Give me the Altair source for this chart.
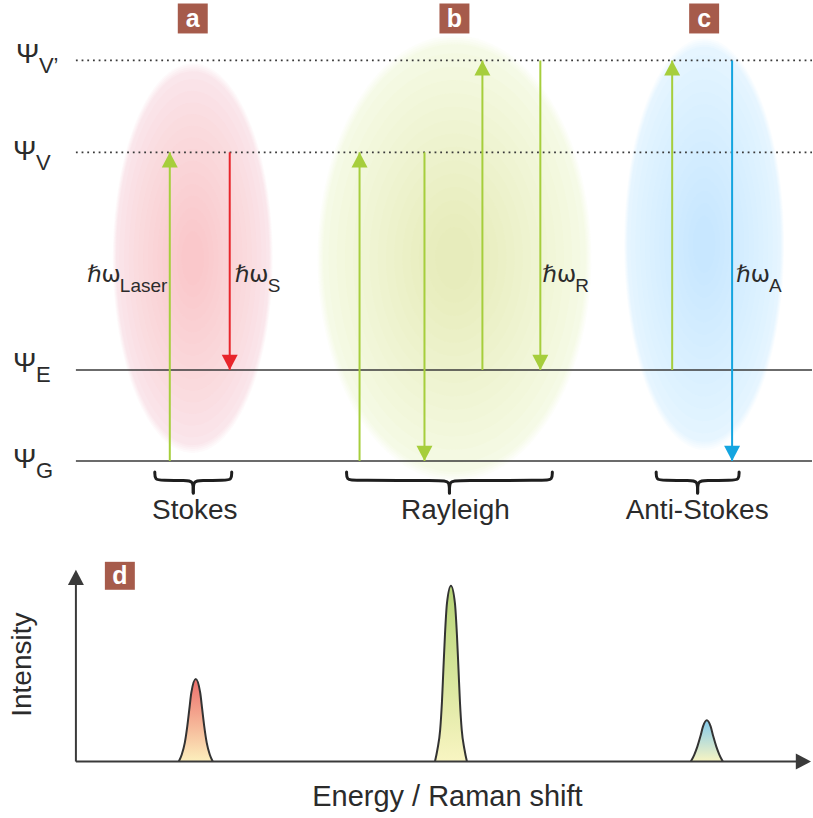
import altair as alt
import pandas as pd

# ---------------- energy-level diagram data ----------------
LEVEL_NAMES = ["G", "E", "V", "V’"]
LEVEL_ENERGY = [0.00, 0.91, 3.09, 4.01]          # diagram energy units
LEVEL_DOTTED = [False, False, True, True]
LEVEL_LABEL_X = [13, 13, 13, 16]

ARROW_X = [170, 230, 360, 425, 483, 541, 673, 733]
ARROW_FROM = ["G", "V", "G", "V", "E", "V’", "E", "V’"]
ARROW_TO = ["V", "E", "V", "G", "V’", "E", "V’", "G"]
ARROW_COLOR = ["#a6ce3c", "#e8252b", "#a6ce3c", "#a6ce3c",
               "#a6ce3c", "#a6ce3c", "#a6ce3c", "#14a5e0"]

PHOTON_MAIN = ["ℏω", "ℏω", "ℏω", "ℏω"]
PHOTON_SUB = ["Laser", "S", "R", "A"]
PHOTON_X = [87, 235, 543, 737]

PROCESS_NAMES = ["Stokes", "Rayleigh", "Anti-Stokes"]
PROCESS_TEXT_X = [195, 456, 698]
BRACE_LEFT = [155, 347, 657]
BRACE_RIGHT = [232, 553, 740]
PANEL_LETTERS = ["a", "b", "c"]
PANEL_X = [193, 455, 705]

GLOW_X = [193, 455, 705]
GLOW_PY = [258, 258, 244]
GLOW_RX = [80, 137, 80]
GLOW_RY = [195, 223, 206]
GLOW_COLOR = ["#f0969f", "#d0e08a", "#96d0f5"]

# ---------------- spectrum data (relative intensity, Rayleigh = 100) ----------------
STOKES_X = [179, 182, 185, 187.5, 189.5, 191.5, 196, 200.5, 202.5, 204.5, 207, 210, 213]
STOKES_I = [0, 4, 10.6, 20, 29.5, 39, 47, 39, 29.5, 20, 10.6, 4, 0]
RAYLEIGH_X = [435.5, 438, 440.7, 442.5, 443.9, 445.5, 447.5, 451.5,
              455.5, 457.5, 459.1, 460.5, 462.3, 465, 467.5]
RAYLEIGH_I = [0, 7, 18, 34, 52, 72, 90, 100, 90, 72, 52, 34, 18, 7, 0]
ANTI_X = [691.7, 695.2, 698.2, 701.2, 703.9, 707.7, 711.5, 714.2, 717.2, 720.2, 723.7]
ANTI_I = [0, 4, 8.5, 14.2, 20, 23.5, 20, 14.2, 8.5, 4, 0]

# ---------------- layout ----------------
W = 813
TOP_H = 545
BOT_H = 273
FONT = "Liberation Sans"
INK = "#2b2b2b"


def e_of(py):            # top panel: pixel row -> energy units
    return (461 - py) / 100.0


def i_of(py):            # bottom panel: pixel row -> intensity units
    return (762 - py) / 1.76


XS = alt.Scale(domain=[0, W], nice=False, zero=False)
YT = alt.Scale(domain=[e_of(TOP_H), e_of(0)], nice=False, zero=False)
YB = alt.Scale(domain=[i_of(818), i_of(TOP_H)], nice=False, zero=False)

lev_e = dict(zip(LEVEL_NAMES, LEVEL_ENERGY))

# ---------- top panel ----------
levels = pd.DataFrame({"name": LEVEL_NAMES, "e": LEVEL_ENERGY, "dotted": LEVEL_DOTTED,
                       "x0": 76, "x1": W})


def xq(f):
    return alt.X(f"{f}:Q", scale=XS, axis=None)


def yt(f):
    return alt.Y(f"{f}:Q", scale=YT, axis=None)


def yb(f):
    return alt.Y(f"{f}:Q", scale=YB, axis=None)


glow_layers = []
GLOW_STEPS = [1.0, 0.99, 0.98, 0.97, 0.96, 0.92, 0.86, 0.8, 0.74, 0.68, 0.62, 0.56,
              0.5, 0.44, 0.38, 0.32, 0.26, 0.2, 0.14]
GLOW_OPS = [0.045] * 5 + [0.032] * 14
for gx, gpy, rx, ry, col in zip(GLOW_X, GLOW_PY, GLOW_RX, GLOW_RY, GLOW_COLOR):
    a = rx / ry
    path = f"M{-a},0A{a},1 0 1,0 {a},0A{a},1 0 1,0 {-a},0Z"
    gdf = pd.DataFrame({
        "x": [gx] * len(GLOW_STEPS),
        "e": [e_of(gpy)] * len(GLOW_STEPS),
        "size": [(2 * ry * s) ** 2 for s in GLOW_STEPS],
        "op": GLOW_OPS,
    })
    glow_layers.append(
        alt.Chart(gdf).mark_point(shape=path, filled=True, color=col, strokeWidth=0)
        .encode(x=xq("x"), y=yt("e"),
                size=alt.Size("size:Q", scale=None, legend=None),
                opacity=alt.Opacity("op:Q", scale=None, legend=None))
    )

solid_lines = alt.Chart(levels[~levels.dotted]).mark_rule(color="#3a3a3a", strokeWidth=1.6).encode(
    x=xq("x0"), x2="x1", y=yt("e"))
dotted_lines = alt.Chart(levels[levels.dotted]).mark_rule(
    color="#3a3a3a", strokeWidth=1.8, strokeDash=[1.8, 3.9]).encode(
    x=xq("x0"), x2="x1", y=yt("e"))

arrows = pd.DataFrame({
    "x": ARROW_X,
    "e0": [lev_e[n] for n in ARROW_FROM],
    "e1": [lev_e[n] for n in ARROW_TO],
    "col": ARROW_COLOR,
})
arrows["up"] = arrows.e1 > arrows.e0
arrow_lines = alt.Chart(arrows).mark_rule(strokeWidth=2).encode(
    x=xq("x"), y=yt("e0"), y2="e1", color=alt.Color("col:N", scale=None, legend=None))
head_up = alt.Chart(arrows[arrows.up]).mark_point(
    shape="M0,0L1,1.9L-1,1.9Z", filled=True, size=256, opacity=1, strokeWidth=0).encode(
    x=xq("x"), y=yt("e1"), color=alt.Color("col:N", scale=None, legend=None))
head_down = alt.Chart(arrows[~arrows.up]).mark_point(
    shape="M0,0L1,-1.9L-1,-1.9Z", filled=True, size=256, opacity=1, strokeWidth=0).encode(
    x=xq("x"), y=yt("e1"), color=alt.Color("col:N", scale=None, legend=None))

# braces (two halves each, from end to central tip)
brace_rows = []
for k, (l, r) in enumerate(zip(BRACE_LEFT, BRACE_RIGHT)):
    c = (l + r) / 2
    for side, sgn, end in (("L", 1, l), ("R", -1, r)):
        pts = [(end, 472), (end, 480), (end + sgn * 7, 480.5),
               (c - sgn * 7, 480.5), (c, 481), (c, 493)]
        for j, (px, py) in enumerate(pts):
            brace_rows.append({"g": f"{k}{side}", "o": j, "x": px, "e": e_of(py)})
braces = alt.Chart(pd.DataFrame(brace_rows)).mark_line(
    interpolate="basis", color="#1e1e1e", strokeWidth=3, strokeCap="round").encode(
    x=xq("x"), y=yt("e"), detail="g:N", order="o:Q")

boxes = pd.DataFrame({"x0": [p - 15 for p in PANEL_X], "x1": [p + 15 for p in PANEL_X],
                      "e0": e_of(3), "e1": e_of(33), "x": PANEL_X, "t": PANEL_LETTERS,
                      "et": e_of(27)})
box_rects = alt.Chart(boxes).mark_rect(color="#a65b4b").encode(
    x=xq("x0"), x2="x1", y=yt("e0"), y2="e1")
box_text = alt.Chart(boxes).mark_text(
    font=FONT, fontWeight="bold", fontSize=25, color="white", align="center",
    baseline="alphabetic").encode(x=xq("x"), y=yt("et"), text="t:N")

# left-aligned labels
left_rows = []
psi_base = {"G": 468, "E": 372, "V": 160, "V’": 63}
for n, lx in zip(LEVEL_NAMES, LEVEL_LABEL_X):
    left_rows.append({"x": lx, "e": e_of(psi_base[n]), "t": "Ψ", "fs": 28})
    left_rows.append({"x": lx + 23, "e": e_of(psi_base[n] + 10), "t": n, "fs": 22})
for s, px in zip(PHOTON_SUB, PHOTON_X):
    left_rows.append({"x": px + 33, "e": e_of(292), "t": s, "fs": 19})
left_text = alt.Chart(pd.DataFrame(left_rows)).mark_text(
    font=FONT, color=INK, align="left", baseline="alphabetic").encode(
    x=xq("x"), y=yt("e"), text="t:N", size=alt.Size("fs:Q", scale=None, legend=None))

photon = pd.DataFrame({"x": PHOTON_X, "t": PHOTON_MAIN, "e": e_of(282)})
photon_text = alt.Chart(photon).mark_text(
    font="DejaVu Sans", color=INK, fontSize=23, align="left", baseline="alphabetic").encode(
    x=xq("x"), y=yt("e"), text="t:N")

proc = pd.DataFrame({"x": PROCESS_TEXT_X, "t": PROCESS_NAMES, "e": e_of(519)})
proc_text = alt.Chart(proc).mark_text(
    font=FONT, color=INK, fontSize=28, align="center", baseline="alphabetic").encode(
    x=xq("x"), y=yt("e"), text="t:N")

top = alt.layer(*glow_layers, solid_lines, dotted_lines, arrow_lines, head_up, head_down,
                braces, box_rects, box_text, left_text, photon_text, proc_text).properties(
    width=W, height=TOP_H)

# ---------- bottom panel ----------


def peak(xs, ys, top_col, bot_col):
    df = pd.DataFrame({"x": xs, "i": ys})
    return alt.Chart(df).mark_area(
        interpolate="monotone",
        line={"color": "#333333", "strokeWidth": 2},
        color=alt.Gradient(gradient="linear",
                           stops=[alt.GradientStop(color=top_col, offset=0),
                                  alt.GradientStop(color=bot_col, offset=1)],
                           x1=0, x2=0, y1=0, y2=1)
    ).encode(x=xq("x"), y=yb("i"))


p_stokes = peak(STOKES_X, STOKES_I, "#e5302c", "#fbe9a0")
p_ray = peak(RAYLEIGH_X, RAYLEIGH_I, "#95c13a", "#f6f1a8")
p_anti = peak(ANTI_X, ANTI_I, "#4fb3e2", "#f5f0a8")

axes_df = pd.DataFrame({"x0": [76], "x1": [798], "i0": [0.0], "itop": [i_of(584)],
                        "tipx": [812], "tipi": [i_of(570)]})
x_axis = alt.Chart(axes_df).mark_rule(color="#3a3a3a", strokeWidth=2).encode(
    x=xq("x0"), x2="x1", y=yb("i0"))
y_axis = alt.Chart(axes_df).mark_rule(color="#3a3a3a", strokeWidth=2).encode(
    x=xq("x0"), y=yb("i0"), y2="itop")
y_head = alt.Chart(axes_df).mark_point(
    shape="M0,0L1,1.9L-1,1.9Z", filled=True, size=256, opacity=1, strokeWidth=0,
    color="#3a3a3a").encode(x=xq("x0"), y=yb("tipi"))
x_head = alt.Chart(axes_df).mark_point(
    shape="M0,0L-1.9,-1L-1.9,1Z", filled=True, size=256, opacity=1, strokeWidth=0,
    color="#3a3a3a").encode(x=xq("tipx"), y=yb("i0"))

dbox = pd.DataFrame({"x0": [105], "x1": [135], "i0": [i_of(562)], "i1": [i_of(590)],
                     "x": [120], "t": ["d"], "it": [i_of(584)]})
d_rect = alt.Chart(dbox).mark_rect(color="#a65b4b").encode(
    x=xq("x0"), x2="x1", y=yb("i0"), y2="i1")
d_text = alt.Chart(dbox).mark_text(
    font=FONT, fontWeight="bold", fontSize=25, color="white", align="center",
    baseline="alphabetic").encode(x=xq("x"), y=yb("it"), text="t:N")

xlab = pd.DataFrame({"x": [448], "i": [i_of(806)], "t": ["Energy / Raman shift"]})
ylab = pd.DataFrame({"x": [23], "i": [i_of(665)], "t": ["Intensity"]})
x_title = alt.Chart(xlab).mark_text(
    font=FONT, color=INK, fontSize=29, align="center", baseline="alphabetic").encode(
    x=xq("x"), y=yb("i"), text="t:N")
y_title = alt.Chart(ylab).mark_text(
    font=FONT, color=INK, fontSize=28, align="center", baseline="middle", angle=270).encode(
    x=xq("x"), y=yb("i"), text="t:N")

bottom = alt.layer(p_stokes, p_ray, p_anti, x_axis, y_axis, y_head, x_head,
                   d_rect, d_text, x_title, y_title).properties(width=W, height=BOT_H)

chart = alt.vconcat(top, bottom, spacing=0).resolve_scale(
    x="independent", y="independent").properties(
    padding=0, background="white").configure_view(stroke=None, strokeWidth=0)

chart.save("out.html", embed_options={"renderer": "svg", "actions": False})
